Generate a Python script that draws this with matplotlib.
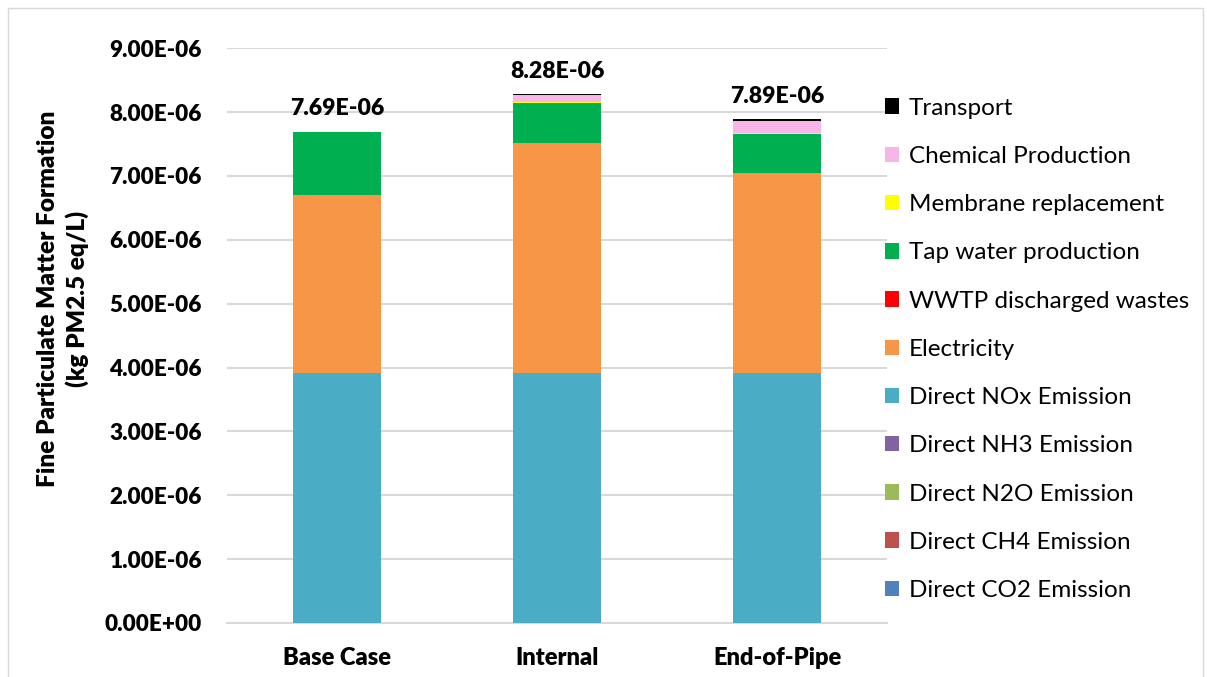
import matplotlib
matplotlib.use("Agg")
import matplotlib.pyplot as plt
from matplotlib.patches import Patch, Rectangle
import numpy as np

plt.rcParams['font.family'] = ['Lato', 'DejaVu Sans']

scenarios = ["Base Case", "Internal", "End-of-Pipe"]

# stacked contributions (kg PM2.5 eq/L), bottom to top
direct_co2 = [0.0, 0.0, 0.0]
direct_ch4 = [0.0, 0.0, 0.0]
direct_n2o = [0.0, 0.0, 0.0]
direct_nh3 = [0.0, 0.0, 0.0]
direct_nox = [3.91e-6, 3.91e-6, 3.92e-6]
electricity = [2.79e-6, 3.61e-6, 3.12e-6]
wwtp_wastes = [0.0, 0.0, 0.0]
tap_water = [0.99e-6, 0.62e-6, 0.62e-6]
membrane = [0.0, 0.02e-6, 0.01e-6]
chemical = [0.0, 0.11e-6, 0.19e-6]
transport = [0.0, 0.01e-6, 0.03e-6]

series = [
    ("Direct CO2 Emission", direct_co2, "#4F81BD"),
    ("Direct CH4 Emission", direct_ch4, "#C0504D"),
    ("Direct N2O Emission", direct_n2o, "#9BBB59"),
    ("Direct NH3 Emission", direct_nh3, "#8064A2"),
    ("Direct NOx Emission", direct_nox, "#4BACC6"),
    ("Electricity", electricity, "#F79646"),
    ("WWTP discharged wastes", wwtp_wastes, "#FF0000"),
    ("Tap water production", tap_water, "#00B050"),
    ("Membrane replacement", membrane, "#FFFF00"),
    ("Chemical Production", chemical, "#F8B6E8"),
    ("Transport", transport, "#000000"),
]

fig = plt.figure(figsize=(12.07, 6.77), dpi=100)
fig.patches.append(Rectangle((0.007, -0.01), 0.99, 0.998, transform=fig.transFigure,
                             fill=False, edgecolor="#D9D9D9", linewidth=1.0))
ax = fig.add_axes([0.188, 0.0798, 0.547, 0.849])

x = np.arange(len(scenarios))
bottom = np.zeros(len(scenarios))
handles = []
for name, vals, color in series:
    v = np.array(vals)
    ax.bar(x, v, 0.4, bottom=bottom, color=color, edgecolor="none", zorder=3)
    bottom += v
    handles.append(Patch(facecolor=color, label=name))

for xi, total in zip(x, bottom):
    ax.annotate(f"{total:.2E}", (xi, total), xytext=(0, 9), textcoords="offset points",
                ha="center", va="bottom", fontsize=16.6, fontweight="heavy")

ax.set_xlim(-0.5, 2.5)
ax.set_ylim(0, 9e-6)
ax.set_yticks(np.arange(0, 9.01e-6, 1e-6))
ax.set_yticklabels([f"{t:.2E}" for t in np.arange(0, 9.01e-6, 1e-6)])
ax.set_xticks(x)
ax.set_xticklabels(scenarios)
ax.grid(axis="y", color="#D9D9D9", linewidth=1.5, zorder=0)
ax.set_axisbelow(True)
for s in ["top", "right", "left"]:
    ax.spines[s].set_visible(False)
ax.spines["bottom"].set_color("#D9D9D9")
ax.spines["bottom"].set_linewidth(1.5)
ax.tick_params(axis="y", length=0, labelsize=16.2, pad=18)
ax.tick_params(axis="x", length=0, labelsize=17, pad=17)
for lbl in ax.get_yticklabels():
    lbl.set_fontweight("heavy")
for lbl in ax.get_xticklabels():
    lbl.set_fontweight("heavy")

fig.text(63 / 1207, 1 - 299 / 677, "Fine Particulate Matter Formation\n(kg PM2.5 eq/L)",
         rotation=90, ha="center", va="center", fontsize=17.6, fontweight="heavy",
         linespacing=1.32, multialignment="center")

fig.legend(handles=handles[::-1], loc="upper left", bbox_to_anchor=(0.725, 0.870),
           frameon=False, fontsize=17.5, handlelength=0.6, handleheight=0.6,
           handletextpad=0.4, labelspacing=1.12, borderaxespad=0)

fig.savefig("out.png", dpi=100)
